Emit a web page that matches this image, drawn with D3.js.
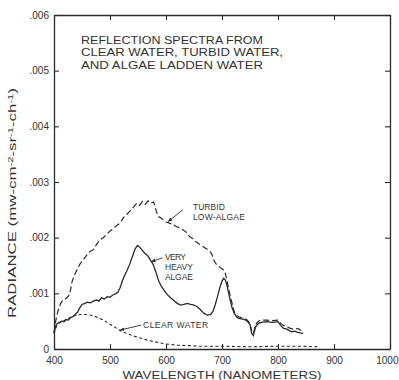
<!DOCTYPE html>
<html>
<head>
<meta charset="utf-8">
<script src="https://cdn.jsdelivr.net/npm/d3@7"></script>
<style>
  html, body { margin: 0; padding: 0; background: #fff; }
  svg { display: block; }
  text { font-family: "Liberation Sans", Arial, sans-serif; fill: #333; }
</style>
</head>
<body>
<div id="chart"></div>
<script>
// Reflection spectra: wavelength (nm) and radiance (mw·cm⁻²·sr⁻¹·ch⁻¹)
const turbidWl = [400,403,407,412,416,420,424,428,432,436,440,446,452,458,464,470,476,482,488,494,500,506,512,518,524,530,536,542,548,553,558,563,568,573,578,582,586,590,595,600,606,612,618,624,630,636,642,648,654,660,666,672,678,682,686,690,695,700,705,710,714,718,722,726,730,735,740,745,750,753,756,760,765,770,780,790,800,805,810,815,820,825,830,835,840,845];
const turbidVal = [.00030,.00050,.00068,.00082,.00088,.00090,.00093,.00098,.00120,.00132,.00140,.00152,.00160,.00168,.00175,.00178,.00188,.00196,.00200,.00206,.00212,.00216,.00222,.00226,.00236,.00242,.00248,.00255,.00262,.00258,.00265,.00260,.00266,.00262,.00264,.00250,.00238,.00236,.00232,.00228,.00226,.00224,.00220,.00218,.00214,.00210,.00202,.00198,.00192,.00188,.00184,.00180,.00176,.00170,.00158,.00152,.00148,.00144,.00140,.00118,.00098,.00082,.00066,.00060,.00058,.00056,.00055,.00052,.00046,.00032,.00028,.00044,.00050,.00052,.00052,.00051,.00052,.00046,.00042,.00040,.00038,.00036,.00035,.00037,.00034,.00033];

const algaeWl = [400,403,406,410,414,418,422,426,430,434,438,442,446,450,455,460,465,470,476,480,485,490,495,500,505,510,514,518,522,526,530,535,540,545,549,553,557,562,567,572,577,582,587,592,597,602,608,614,620,626,632,638,644,650,656,662,668,674,680,684,688,692,696,700,703,706,709,712,715,718,722,726,730,735,740,745,750,753,756,760,765,770,780,790,800,805,810,815,820,825,830,835,840,845];
const algaeVal = [.00028,.00042,.00046,.00048,.00050,.00049,.00053,.00052,.00057,.00058,.00062,.00066,.00074,.00080,.00082,.00084,.00083,.00086,.00088,.00086,.00092,.00090,.00094,.00093,.00097,.00099,.00102,.00110,.00122,.00132,.00140,.00152,.00166,.00180,.00186,.00183,.00178,.00172,.00168,.00160,.00152,.00138,.00122,.00112,.00105,.00098,.00092,.00087,.00082,.00079,.00080,.00082,.00080,.00079,.00076,.00070,.00064,.00061,.00062,.00068,.00080,.00094,.00110,.00122,.00127,.00124,.00114,.00100,.00086,.00074,.00064,.00058,.00055,.00054,.00053,.00050,.00044,.00028,.00024,.00040,.00046,.00048,.00049,.00048,.00049,.00042,.00037,.00036,.00033,.00031,.00032,.00030,.00029,.00028];

const clearWl = [400,405,410,416,422,428,434,440,448,456,464,472,480,488,496,504,512,520,530,540,550,560,570,580,590,600,620,640,660,700,750,800,840,875];
const clearVal = [.00028,.00042,.00047,.00050,.00053,.00056,.00059,.00061,.00062,.00062,.00061,.00059,.00056,.00052,.00047,.00042,.00037,.00032,.00028,.00024,.00021,.00018,.00015,.00013,.00011,.00009,.00007,.00006,.00005,.00005,.00004,.00005,.00005,.00004];

const xTicks = [400,500,600,700,800,900,1000];
const yTicks = [0,.001,.002,.003,.004,.005,.006];
const yTickLabels = ["0",".001",".002",".003",".004",".005",".006"];

const titleLines = ["REFLECTION SPECTRA FROM", "CLEAR WATER, TURBID WATER,", "AND ALGAE LADDEN WATER"];

// Curve annotations (text anchored in data space) and their leader lines
const annotations = [
  { lines: ["TURBID", "LOW-ALGAE"], wl: 648, val: .00250, step: .00018, widths: [32, 52],
    leader: [[630, .00250], [604, .00229]] },
  { lines: ["VERY", "HEAVY", "ALGAE"], wl: 598, val: .00160, step: .00018, widths: [21, 28, 28],
    leader: [[594, .00164], [574, .00157]] },
  { lines: ["CLEAR WATER"], wl: 559, val: .00038, step: 0, widths: [65],
    leader: [[556, .00043], [518, .00034]] }
];

const W = 399, H = 380;
const m = { left: 54, right: 9, top: 15, bottom: 31 };

const svg = d3.select("#chart").append("svg").attr("width", W).attr("height", H);

const x = d3.scaleLinear().domain([400, 1000]).range([m.left, W - m.right]);
const y = d3.scaleLinear().domain([0, .006]).range([H - m.bottom, m.top]);

const ink = "#2b2b2b";

svg.append("defs").append("marker")
  .attr("id", "arrow").attr("viewBox", "0 0 10 10")
  .attr("refX", 9).attr("refY", 5)
  .attr("markerWidth", 5).attr("markerHeight", 5)
  .attr("orient", "auto")
  .append("path").attr("d", "M0,1 L10,5 L0,9 Z").attr("fill", ink);

function styleAxis(g) {
  g.select(".domain").attr("stroke", ink).attr("stroke-width", 1.3);
  g.selectAll(".tick line").attr("stroke", ink).attr("stroke-width", 1.1);
  g.selectAll(".tick text").attr("fill", "#333").style("font-size", "10px")
    .style("font-family", "'Liberation Sans', Arial, sans-serif");
}

// Frame: ticks point inward on all four sides
const xAxisG = svg.append("g").attr("transform", `translate(0,${y(0)})`)
  .call(d3.axisBottom(x).tickValues(xTicks).tickSizeInner(-5).tickSizeOuter(0).tickPadding(8).tickFormat(d3.format("d")))
  .call(styleAxis);
// the last label sits against the page edge
xAxisG.selectAll(".tick text").filter(d => d === 1000)
  .attr("text-anchor", "end").attr("dx", W - 1 - x(1000));

svg.append("g").attr("transform", `translate(0,${y(.006)})`)
  .call(d3.axisTop(x).tickValues(xTicks).tickSizeInner(-5).tickSizeOuter(0).tickFormat(""))
  .call(styleAxis);
svg.append("g").attr("transform", `translate(${x(400)},0)`)
  .call(d3.axisLeft(y).tickValues(yTicks).tickSizeInner(-5).tickSizeOuter(0).tickPadding(5)
    .tickFormat((d, i) => yTickLabels[i]))
  .call(styleAxis);
svg.append("g").attr("transform", `translate(${x(1000)},0)`)
  .call(d3.axisRight(y).tickValues(yTicks).tickSizeInner(-5).tickSizeOuter(0).tickFormat(""))
  .call(styleAxis);

// Series
const line = d3.line().x(d => x(d[0])).y(d => y(d[1])).curve(d3.curveLinear);
const zip = (a, b) => a.map((v, i) => [v, b[i]]);

svg.append("path").datum(zip(clearWl, clearVal))
  .attr("d", line).attr("fill", "none").attr("stroke", ink)
  .attr("stroke-width", 1.1).attr("stroke-dasharray", "3,2.5");
svg.append("path").datum(zip(turbidWl, turbidVal))
  .attr("d", line).attr("fill", "none").attr("stroke", ink)
  .attr("stroke-width", 1.2).attr("stroke-dasharray", "6,3");
svg.append("path").datum(zip(algaeWl, algaeVal))
  .attr("d", line).attr("fill", "none").attr("stroke", ink)
  .attr("stroke-width", 1.3);

// Annotations
annotations.forEach(a => {
  a.lines.forEach((t, i) => {
    svg.append("text")
      .attr("x", x(a.wl)).attr("y", y(a.val - i * a.step))
      .attr("textLength", a.widths[i]).attr("lengthAdjust", "spacing")
      .style("font-size", "8.5px").attr("fill", "#2e2e2e")
      .text(t);
  });
  svg.append("line")
    .attr("x1", x(a.leader[0][0])).attr("y1", y(a.leader[0][1]))
    .attr("x2", x(a.leader[1][0])).attr("y2", y(a.leader[1][1]))
    .attr("stroke", ink).attr("stroke-width", 0.9)
    .attr("marker-end", "url(#arrow)");
});

// Title block inside the frame
const titleWidths = [182, 202, 182];
titleLines.forEach((t, i) => {
  svg.append("text")
    .attr("x", 81).attr("y", [44, 56, 69][i])
    .attr("textLength", titleWidths[i]).attr("lengthAdjust", "spacingAndGlyphs")
    .style("font-size", "11px").text(t);
});

// Axis titles
svg.append("text")
  .attr("x", 222).attr("y", 379).attr("text-anchor", "middle")
  .attr("textLength", 199).attr("lengthAdjust", "spacingAndGlyphs")
  .style("font-size", "10.5px").text("WAVELENGTH (NANOMETERS)");

const yt = svg.append("text")
  .attr("transform", "translate(16,203) rotate(-90)")
  .attr("text-anchor", "middle")
  .attr("textLength", 230).attr("lengthAdjust", "spacingAndGlyphs")
  .style("font-size", "10.5px");
const parts = [["RADIANCE (mw-cm", 0], ["-2", 1], ["-sr", 0], ["-1", 1], ["-ch", 0], ["-1", 1], [")", 0]];
parts.forEach(([t, sup]) => {
  const s = yt.append("tspan").text(t);
  if (sup) s.attr("baseline-shift", "super").style("font-size", "7px");
});
</script>
</body>
</html>
